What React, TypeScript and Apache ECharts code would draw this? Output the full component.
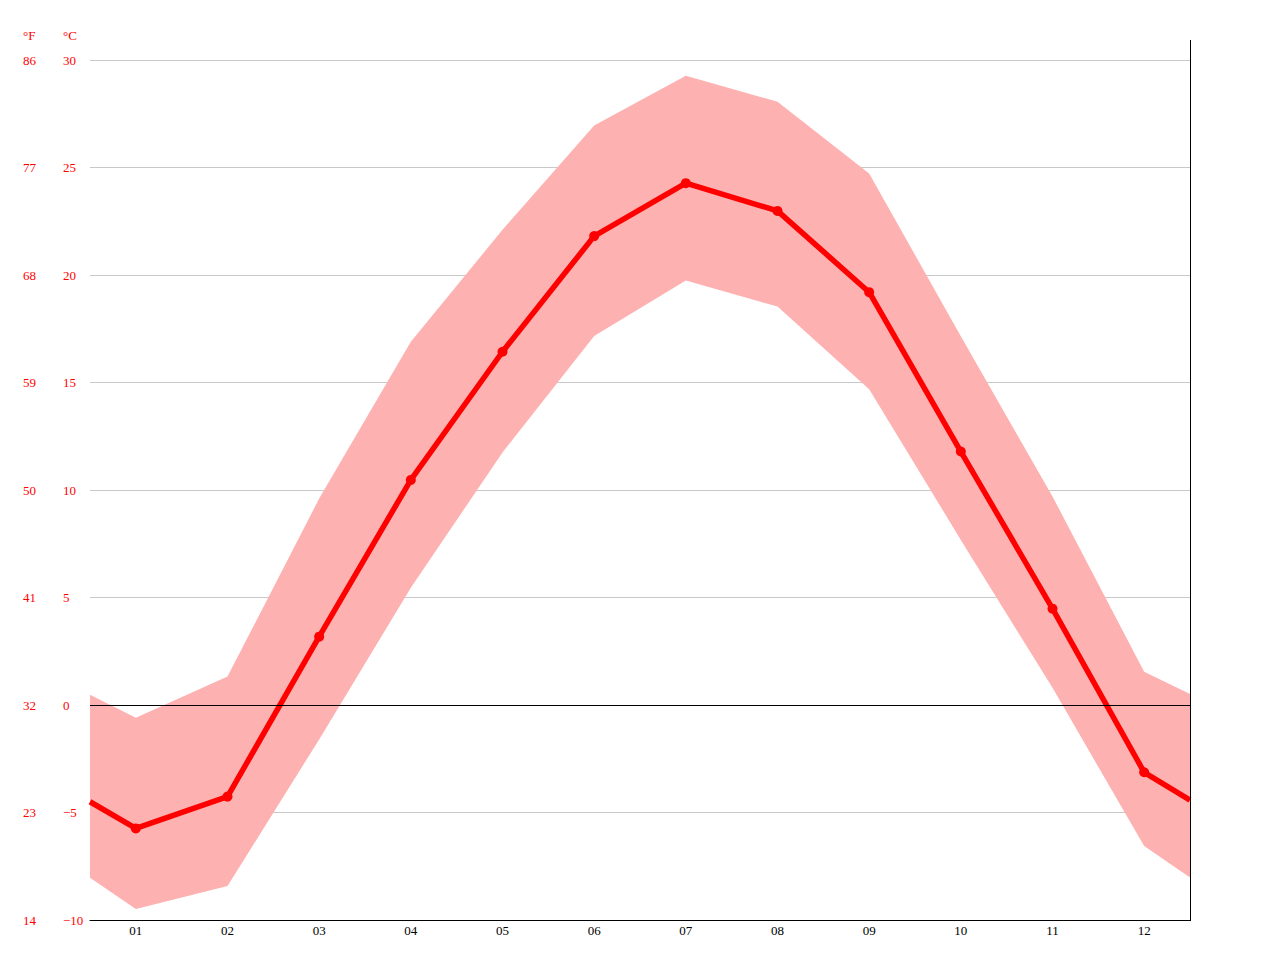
import React, { useEffect, useRef } from 'react';
import * as echarts from 'echarts';

// 月份标签
const months = ['01', '02', '03', '04', '05', '06', '07', '08', '09', '10', '11', '12'];
// 数据点在数值轴上的位置（两端为年末/年初的衔接点）
const xPos = [0, 0.5, 1.5, 2.5, 3.5, 4.5, 5.5, 6.5, 7.5, 8.5, 9.5, 10.5, 11.5, 12];
// 最高气温 °C
const tempMax = [0.48, -0.59, 1.32, 9.6, 16.9, 22.1, 26.95, 29.27, 28.06, 24.72, 17.15, 9.7, 1.55, 0.51];
// 平均气温 °C
const tempMean = [-4.5, -5.74, -4.26, 3.18, 10.47, 16.43, 21.81, 24.27, 22.98, 19.2, 11.79, 4.48, -3.13, -4.42];
// 最低气温 °C
const tempMin = [-8.03, -9.49, -8.42, -1.6, 5.45, 11.75, 17.16, 19.75, 18.53, 14.69, 7.68, 0.8, -6.56, -8.02];

const FONT = 'Liberation Serif';
const FS = 13;
const RED = '#ff0000';

const minus = (s: string) => s.replace('-', '\u2212');

export default function App() {
  const chartRef = useRef<HTMLDivElement>(null);

  useEffect(() => {
    if (!chartRef.current) return;
    const chart = echarts.init(chartRef.current, null, { renderer: 'svg' });
    const last = xPos.length - 1;

    const bandData = xPos.map((x, i) => [x, tempMin[i], tempMax[i]]);
    const meanData = xPos.map((x, i) => ({
      value: [x, tempMean[i]],
      symbol: i === 0 || i === last ? 'none' : 'circle',
    }));

    const yCommon = {
      type: 'value' as const,
      min: -10,
      max: 30,
      interval: 5,
      position: 'left' as const,
      axisLine: { show: false },
      axisTick: { show: false },
    };

    chart.setOption({
      animation: false,
      grid: { left: 90, right: 90, top: 60, bottom: 40 },
      xAxis: [
        {
          type: 'category',
          data: months,
          boundaryGap: true,
          axisLine: { onZero: false, lineStyle: { color: '#000', width: 1 } },
          axisTick: { length: 5, lineStyle: { color: '#000' } },
          axisLabel: { color: '#000', fontFamily: FONT, fontSize: FS, margin: 4 },
          splitLine: { show: false },
          z: 10,
        },
        { type: 'value', min: 0, max: 12, show: false },
      ],
      yAxis: [
        {
          ...yCommon,
          offset: 27,
          axisLabel: {
            color: RED,
            fontFamily: FONT,
            fontSize: FS,
            align: 'left',
            margin: 0,
            formatter: (v: number) => minus(String(v)),
          },
          splitLine: { show: true, lineStyle: { color: '#c8c8c8', width: 1 } },
        },
        {
          ...yCommon,
          offset: 67,
          axisLabel: {
            color: RED,
            fontFamily: FONT,
            fontSize: FS,
            align: 'left',
            margin: 0,
            formatter: (v: number) => String(Math.round(v * 1.8 + 32)),
          },
          splitLine: { show: false },
        },
      ],
      series: [
        {
          // 最高/最低气温带
          type: 'custom',
          xAxisIndex: 1,
          yAxisIndex: 0,
          data: bandData,
          encode: { x: 0, y: [1, 2] },
          z: 2,
          silent: true,
          renderItem: (params: any, api: any) => {
            if (params.dataIndex !== 0) return null;
            const top = xPos.map((x, i) => api.coord([x, tempMax[i]]));
            const bottom = xPos.map((x, i) => api.coord([x, tempMin[i]])).reverse();
            return {
              type: 'polygon',
              shape: { points: top.concat(bottom) },
              style: { fill: '#feb1b1' },
            };
          },
        },
        {
          // 0 °C 参考线
          type: 'line',
          xAxisIndex: 1,
          yAxisIndex: 0,
          data: meanData.map((d) => d.value),
          symbol: 'none',
          lineStyle: { width: 0, opacity: 0 },
          z: 3,
          silent: true,
          markLine: {
            silent: true,
            symbol: 'none',
            label: { show: false },
            lineStyle: { color: '#000', width: 1, type: 'solid' },
            data: [{ yAxis: 0 }],
          },
        },
        {
          // 平均气温
          type: 'line',
          xAxisIndex: 1,
          yAxisIndex: 0,
          data: meanData,
          symbolSize: 10,
          itemStyle: { color: RED },
          lineStyle: { color: RED, width: 5.5 },
          z: 4,
        },
      ],
      graphic: [
        {
          type: 'text',
          left: 23,
          top: 29,
          style: { text: '°F', fill: RED, font: `${FS}px "${FONT}"` },
        },
        {
          type: 'text',
          left: 63,
          top: 29,
          style: { text: '°C', fill: RED, font: `${FS}px "${FONT}"` },
        },
        {
          type: 'line',
          shape: { x1: 1190.5, y1: 40, x2: 1190.5, y2: 921 },
          style: { stroke: '#000', lineWidth: 1 },
          z: 10,
        },
      ],
    });

    return () => {
      chart.dispose();
    };
  }, []);

  return (
    <div style={{ position: 'absolute', left: 0, top: 0, width: 1280, height: 960 }}>
      <div ref={chartRef} style={{ width: '100%', height: '100%' }} />
    </div>
  );
}
